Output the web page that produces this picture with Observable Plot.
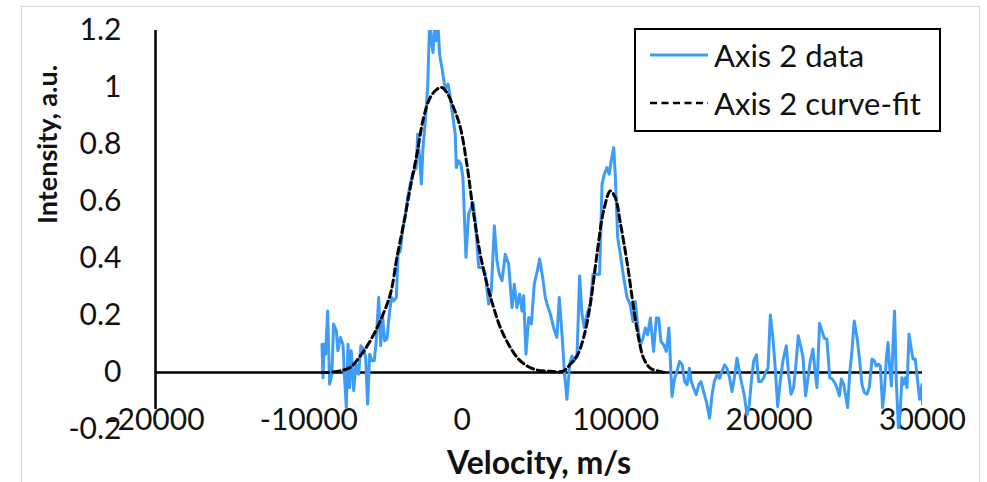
<!DOCTYPE html>
<html>
<head>
<meta charset="utf-8">
<script src="https://cdn.jsdelivr.net/npm/d3@7"></script>
<script src="https://cdn.jsdelivr.net/npm/@observablehq/plot@0.6"></script>
<style>
  html, body { margin: 0; padding: 0; background: #fff; }
  #wrap { position: relative; width: 987px; height: 482px; overflow: hidden; font-family: Lato, "Open Sans", sans-serif; }
  #frame { position: absolute; left: 21px; top: 6px; width: 959px; height: 600px; border: 1px solid #d9d9d9; box-sizing: border-box; }
  #legend { position: absolute; left: 634px; top: 28px; width: 307px; height: 104px; border: 2.5px solid #000; box-sizing: border-box; background: #fff; }
  .row { position: absolute; left: 0; height: 40px; display: flex; align-items: center; font-size: 31px; color: #111; white-space: nowrap; }
  .row svg { margin-left: 14px; margin-right: 6px; }
</style>
</head>
<body>
<div id="wrap">
  <div id="frame"></div>
  <div id="chart"></div>
  <div id="legend">
    <div class="row" style="top:5px"><svg width="58" height="10"><line x1="0" y1="5" x2="58" y2="5" stroke="#3c9cf7" stroke-width="3"/></svg><span>Axis 2 data</span></div>
    <div class="row" style="top:53px"><svg width="58" height="10"><line x1="0" y1="5" x2="58" y2="5" stroke="#000" stroke-width="2.5" stroke-dasharray="7,4.5"/></svg><span>Axis 2 curve-fit</span></div>
  </div>
</div>
<script>
const velocity = [-9150,-9080,-9000,-8910,-8780,-8650,-8500,-8390,-8210,-8110,-7950,-7780,-7690,-7560,-7450,-7350,-7240,-7080,-6930,-6760,-6610,-6430,-6300,-6170,-6040,-5890,-5740,-5610,-5450,-5320,-5190,-5060,-4910,-4760,-4610,-4480,-4300,-4190,-4040,-3870,-3720,-3560,-3390,-3240,-3130,-3000,-2910,-2780,-2670,-2560,-2410,-2260,-2130,-2020,-1910,-1800,-1700,-1590,-1480,-1330,-1170,-1040,-930,-780,-610,-460,-390,-240,-90,40,240,410,700,850,1070,1350,1500,1720,1890,2090,2260,2410,2590,2800,3020,3240,3390,3560,3740,3890,4000,4150,4330,4500,4690,4870,5040,5240,5410,5560,5740,5950,6170,6320,6500,6650,6820,7000,7150,7300,7480,7650,7800,7950,8130,8350,8520,8740,8950,9110,9260,9430,9580,9710,9870,9970,10130,10300,10520,10740,10950,11130,11280,11430,11600,11780,11930,12080,12260,12470,12650,12800,12950,13130,13300,13470,13670,13840,13990,14170,14340,14490,14650,14800,14930,15080,15250,15410,15560,15730,15910,16120,16280,16430,16600,16780,16930,17100,17250,17430,17580,17730,17910,18060,18230,18380,18560,18710,18840,18990,19170,19320,19470,19640,19800,19930,20080,20250,20400,20560,20730,20900,21120,21270,21430,21600,21770,21900,22080,22210,22380,22510,22690,22860,22990,23120,23290,23450,23600,23770,23950,24120,24270,24420,24580,24710,24860,25010,25120,25250,25400,25550,25730,25880,26050,26210,26380,26530,26710,26860,26990,27140,27250,27400,27530,27640,27750,27860,27970,28080,28180,28290,28440,28550,28660,28770,28900,28990,29120,29250,29380,29530,29680,29810,29970,30000];
const intensity = [0.099,-0.018,0.099,0.064,0.216,-0.041,-0.006,0.170,0.146,0.076,0.123,0.099,-0.006,-0.123,0.099,-0.053,0.076,-0.064,0.029,-0.006,0.094,0.082,0.053,-0.111,0.064,0.041,0.041,0.111,0.263,0.094,0.193,0.111,0.117,0.205,0.263,0.251,0.263,0.415,0.427,0.509,0.544,0.614,0.661,0.696,0.708,0.719,0.836,0.754,0.661,0.789,0.883,1.000,1.23,1.164,1.123,1.23,1.164,1.23,1.117,1.070,1.012,1.000,1.012,0.965,0.895,0.836,0.719,0.743,0.731,0.684,0.404,0.556,0.596,0.532,0.368,0.368,0.345,0.240,0.287,0.515,0.392,0.345,0.322,0.415,0.380,0.228,0.310,0.228,0.275,0.216,0.269,0.064,0.193,0.170,0.310,0.351,0.398,0.333,0.263,0.234,0.205,0.158,0.123,0.263,0.135,0.006,-0.094,0.029,0.058,0.041,0.064,0.339,0.205,0.158,0.205,0.240,0.345,0.345,0.345,0.661,0.696,0.719,0.696,0.743,0.789,0.696,0.474,0.415,0.333,0.263,0.237,0.179,0.249,0.167,0.097,0.120,0.156,0.132,0.191,0.074,0.191,0.191,0.109,0.097,0.074,0.156,-0.084,-0.020,0.004,0.039,0.027,-0.032,-0.043,0.015,-0.032,-0.055,-0.078,-0.043,-0.032,-0.067,-0.102,-0.160,-0.078,-0.032,-0.008,-0.020,0.004,0.027,0.015,-0.020,-0.067,-0.020,0.050,0.004,-0.043,-0.078,-0.149,-0.113,-0.032,0.039,0.062,-0.032,-0.032,-0.020,0.004,0.015,0.202,0.120,0.015,-0.120,-0.029,0.041,0.094,-0.006,-0.076,-0.053,0.041,0.129,0.088,0.053,-0.082,-0.029,0.041,0.082,0.006,-0.053,0.172,0.146,0.120,0.117,-0.018,-0.023,-0.035,-0.053,-0.082,-0.023,-0.041,-0.088,-0.123,-0.006,0.076,0.181,0.123,0.053,-0.041,-0.070,-0.076,-0.053,0.047,0.041,0.023,0.029,0.023,-0.123,-0.053,0.047,0.105,0.018,-0.047,0.099,0.216,-0.029,-0.205,-0.135,-0.018,-0.041,-0.018,-0.053,0.134,0.088,0.047,0.047,-0.029,-0.094,-0.041,-0.11];
const fitVelocity = [-9150,-8820,-7950,-7300,-6650,-6000,-5350,-4690,-4260,-3830,-3390,-2960,-2520,-2090,-1650,-1330,-1000,-570,-130,300,740,1170,1610,2040,2480,3130,3780,4650,5740,6610,7040,7480,7910,8345,8780,9210,9650,9970,10300,10735,11170,11495,11820,12260,12910,13130];
const fitIntensity = [0,0,0.006,0.018,0.058,0.111,0.181,0.275,0.404,0.520,0.649,0.766,0.895,0.965,0.994,1.0,0.982,0.930,0.860,0.730,0.556,0.415,0.310,0.228,0.158,0.088,0.041,0.012,0.004,0.006,0.029,0.058,0.123,0.240,0.415,0.567,0.637,0.614,0.525,0.389,0.226,0.120,0.050,0.015,0.004,0];
const xTicks = [-20000,-10000,0,10000,20000,30000];
const yTicks = [-0.2,0,0.2,0.4,0.6,0.8,1,1.2];
const xTitle = "Velocity, m/s";
const yTitle = "Intensity, a.u.";

const data = velocity.map((v, i) => ({v, y: intensity[i]}));
const fit = fitVelocity.map((v, i) => ({v, y: fitIntensity[i]}));

const chart = Plot.plot({
  width: 987,
  height: 482,
  marginLeft: 155,
  marginRight: 65,
  marginTop: 30,
  marginBottom: 53,
  style: {fontFamily: "Lato, 'Open Sans', sans-serif", fontSize: "30px", color: "#111", background: "transparent", overflow: "visible"},
  x: {domain: [-20000, 30000]},
  y: {domain: [-0.2, 1.2]},
  marks: [
    Plot.axisX({ticks: xTicks, tickSize: 0, tickPadding: 0, dy: -9, lineAnchor: "middle", tickFormat: d => String(d), label: null, fontSize: 30}),
    Plot.axisY({ticks: yTicks, tickSize: 0, tickPadding: 34, tickFormat: d => String(+d.toFixed(1)), label: null, fontSize: 30}),
    Plot.ruleY([0], {x1: -20000, x2: 30000, stroke: "#000", strokeWidth: 2.5}),
    Plot.ruleX([-20000], {y1: -0.13, y2: 1.2, stroke: "#000", strokeWidth: 2.5}),
    Plot.line(data, {x: "v", y: "y", stroke: "#3c9cf7", strokeWidth: 3, clip: true}),
    Plot.line(fit, {x: "v", y: "y", stroke: "#000", strokeWidth: 3, strokeDasharray: "7,4", curve: "catmull-rom", clip: true}),
    Plot.text([xTitle], {frameAnchor: "bottom", dy: 34, text: d => d, fontWeight: "bold", fontSize: 32, lineAnchor: "middle"}),
    Plot.text([yTitle], {frameAnchor: "left", dx: -107, dy: -6, rotate: -90, text: d => d, fontWeight: "bold", fontSize: 27, lineAnchor: "middle"})
  ]
});
document.getElementById("chart").appendChild(chart);
</script>
</body>
</html>
